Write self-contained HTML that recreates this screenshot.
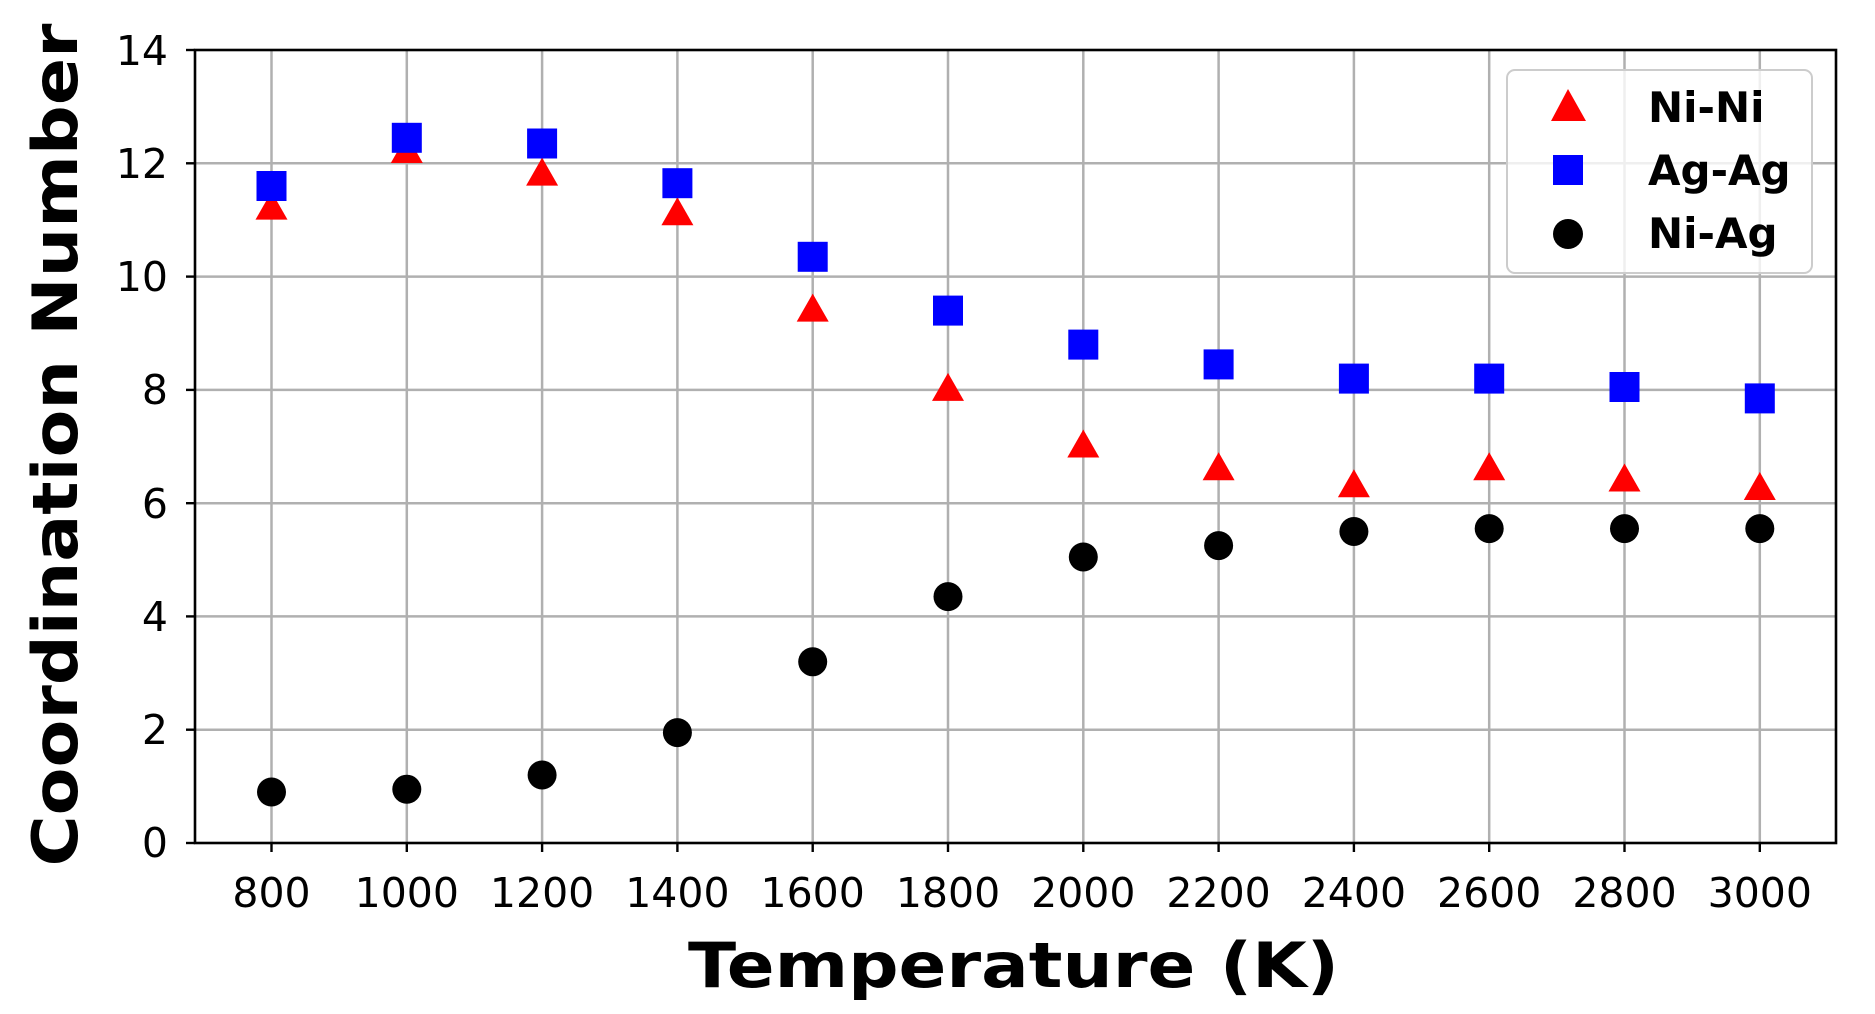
<!DOCTYPE html>
<html><head><meta charset="utf-8"><style>
html,body{margin:0;padding:0;background:#fff;}
svg{display:block;}
text{font-family:"DejaVu Sans","Liberation Sans",sans-serif;fill:#000;}
</style></head><body>
<svg width="1875" height="1014" viewBox="0 0 1875 1014" xmlns="http://www.w3.org/2000/svg">
<rect width="1875" height="1014" fill="#fff"/>
<g stroke="#b0b0b0" stroke-width="2.5">
<line x1="271.5" y1="50" x2="271.5" y2="843"/><line x1="406.8" y1="50" x2="406.8" y2="843"/><line x1="542.1" y1="50" x2="542.1" y2="843"/><line x1="677.4" y1="50" x2="677.4" y2="843"/><line x1="812.7" y1="50" x2="812.7" y2="843"/><line x1="948" y1="50" x2="948" y2="843"/><line x1="1083.3" y1="50" x2="1083.3" y2="843"/><line x1="1218.6" y1="50" x2="1218.6" y2="843"/><line x1="1353.9" y1="50" x2="1353.9" y2="843"/><line x1="1489.2" y1="50" x2="1489.2" y2="843"/><line x1="1624.5" y1="50" x2="1624.5" y2="843"/><line x1="1759.8" y1="50" x2="1759.8" y2="843"/>
<line x1="195" y1="729.7" x2="1836" y2="729.7"/><line x1="195" y1="616.4" x2="1836" y2="616.4"/><line x1="195" y1="503.2" x2="1836" y2="503.2"/><line x1="195" y1="389.9" x2="1836" y2="389.9"/><line x1="195" y1="276.6" x2="1836" y2="276.6"/><line x1="195" y1="163.3" x2="1836" y2="163.3"/>
</g>
<g fill="#ff0000">
<polygon points="271.5,191.6 255.5,219.6 287.5,219.6"/>
<polygon points="406.8,135 390.8,163 422.8,163"/>
<polygon points="542.1,157.6 526.1,185.6 558.1,185.6"/>
<polygon points="677.4,197.3 661.4,225.3 693.4,225.3"/>
<polygon points="812.7,293.6 796.7,321.6 828.7,321.6"/>
<polygon points="948,372.9 932,400.9 964,400.9"/>
<polygon points="1083.3,429.5 1067.3,457.5 1099.3,457.5"/>
<polygon points="1218.6,452.2 1202.6,480.2 1234.6,480.2"/>
<polygon points="1353.9,469.2 1337.9,497.2 1369.9,497.2"/>
<polygon points="1489.2,452.2 1473.2,480.2 1505.2,480.2"/>
<polygon points="1624.5,463.5 1608.5,491.5 1640.5,491.5"/>
<polygon points="1759.8,472 1743.8,500 1775.8,500"/>
</g>
<g fill="#0000ff">
<rect x="256.5" y="171" width="30" height="30"/>
<rect x="391.8" y="122.8" width="30" height="30"/>
<rect x="527.1" y="128.5" width="30" height="30"/>
<rect x="662.4" y="168.2" width="30" height="30"/>
<rect x="797.7" y="241.8" width="30" height="30"/>
<rect x="933" y="295.6" width="30" height="30"/>
<rect x="1068.3" y="329.6" width="30" height="30"/>
<rect x="1203.6" y="349.4" width="30" height="30"/>
<rect x="1338.9" y="363.6" width="30" height="30"/>
<rect x="1474.2" y="363.6" width="30" height="30"/>
<rect x="1609.5" y="372" width="30" height="30"/>
<rect x="1744.8" y="383.4" width="30" height="30"/>
</g>
<g fill="#000">
<circle cx="271.5" cy="792" r="14.5"/><circle cx="406.8" cy="789.2" r="14.5"/><circle cx="542.1" cy="775" r="14.5"/><circle cx="677.4" cy="732.6" r="14.5"/><circle cx="812.7" cy="661.8" r="14.5"/><circle cx="948" cy="596.6" r="14.5"/><circle cx="1083.3" cy="557" r="14.5"/><circle cx="1218.6" cy="545.6" r="14.5"/><circle cx="1353.9" cy="531.5" r="14.5"/><circle cx="1489.2" cy="528.6" r="14.5"/><circle cx="1624.5" cy="528.6" r="14.5"/><circle cx="1759.8" cy="528.6" r="14.5"/>
</g>
<rect x="195" y="50" width="1641" height="793" fill="none" stroke="#000" stroke-width="2.6"/>
<g stroke="#000" stroke-width="2.4">
<line x1="271.5" y1="843" x2="271.5" y2="852"/><line x1="406.8" y1="843" x2="406.8" y2="852"/><line x1="542.1" y1="843" x2="542.1" y2="852"/><line x1="677.4" y1="843" x2="677.4" y2="852"/><line x1="812.7" y1="843" x2="812.7" y2="852"/><line x1="948" y1="843" x2="948" y2="852"/><line x1="1083.3" y1="843" x2="1083.3" y2="852"/><line x1="1218.6" y1="843" x2="1218.6" y2="852"/><line x1="1353.9" y1="843" x2="1353.9" y2="852"/><line x1="1489.2" y1="843" x2="1489.2" y2="852"/><line x1="1624.5" y1="843" x2="1624.5" y2="852"/><line x1="1759.8" y1="843" x2="1759.8" y2="852"/>
<line x1="186" y1="843" x2="195" y2="843"/><line x1="186" y1="729.7" x2="195" y2="729.7"/><line x1="186" y1="616.4" x2="195" y2="616.4"/><line x1="186" y1="503.2" x2="195" y2="503.2"/><line x1="186" y1="389.9" x2="195" y2="389.9"/><line x1="186" y1="276.6" x2="195" y2="276.6"/><line x1="186" y1="163.3" x2="195" y2="163.3"/><line x1="186" y1="50" x2="195" y2="50"/>
</g>
<g font-size="41" text-anchor="middle">
<text x="271.5" y="907">800</text><text x="406.8" y="907">1000</text><text x="542.1" y="907">1200</text><text x="677.4" y="907">1400</text><text x="812.7" y="907">1600</text><text x="948" y="907">1800</text><text x="1083.3" y="907">2000</text><text x="1218.6" y="907">2200</text><text x="1353.9" y="907">2400</text><text x="1489.2" y="907">2600</text><text x="1624.5" y="907">2800</text><text x="1759.8" y="907">3000</text>
</g>
<g font-size="41" text-anchor="end">
<text x="168" y="857">0</text><text x="168" y="744">2</text><text x="168" y="631">4</text><text x="168" y="518">6</text><text x="168" y="404">8</text><text x="168" y="291">10</text><text x="168" y="178">12</text><text x="168" y="65">14</text>
</g>
<text x="688" y="987" font-size="62" font-weight="bold" textLength="651" lengthAdjust="spacingAndGlyphs">Temperature (K)</text>
<text transform="translate(77,445) rotate(-90)" text-anchor="middle" font-size="62" font-weight="bold" textLength="843" lengthAdjust="spacingAndGlyphs">Coordination Number</text>
<rect x="1507" y="70" width="305" height="203" rx="8" fill="#fff" fill-opacity="0.8" stroke="#cccccc" stroke-width="2"/>
<polygon points="1568,89 1551,121 1586,121" fill="#ff0000"/>
<rect x="1553" y="155" width="30" height="30" fill="#0000ff"/>
<circle cx="1568" cy="234" r="15" fill="#000"/>
<g font-size="42" font-weight="bold">
<text x="1648" y="122">Ni-Ni</text><text x="1648" y="185">Ag-Ag</text><text x="1648" y="248">Ni-Ag</text>
</g>
</svg>
</body></html>
